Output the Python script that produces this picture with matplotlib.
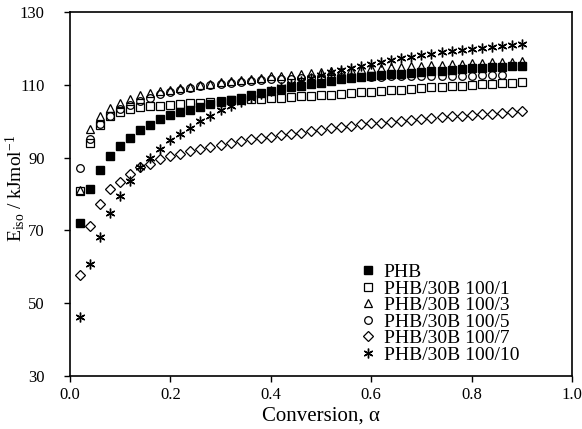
import numpy as np
import matplotlib
matplotlib.use('Agg')
import matplotlib.pyplot as plt

plt.rcParams['font.family'] = ['Liberation Serif', 'DejaVu Serif']
plt.rcParams['mathtext.fontset'] = 'custom'
plt.rcParams['mathtext.rm'] = 'Liberation Serif'
plt.rcParams['mathtext.it'] = 'Liberation Serif:italic'

# conversion values (0.02 ... 0.90)
alpha = [round(0.02 * k, 2) for k in range(1, 46)]

phb = [72.0, 81.4, 86.5, 90.4, 93.3, 95.4, 97.5, 99.0, 100.5, 101.6,
       102.5, 103.2, 104.0, 104.7, 105.3, 105.9, 106.5, 107.1, 107.7, 108.3,
       108.8, 109.3, 109.7, 110.2, 110.6, 111.1, 111.5, 111.9, 112.2, 112.5,
       112.7, 112.9, 113.1, 113.3, 113.5, 113.7, 113.9, 114.1, 114.3, 114.5,
       114.6, 114.8, 114.9, 115.1, 115.2]

b100_1 = [80.7, 94.1, 98.9, 101.3, 102.4, 103.3, 103.9, 104.2, 104.3, 104.5,
          104.7, 104.9, 105.1, 105.3, 105.5, 105.7, 105.9, 106.1, 106.2, 106.4,
          106.5, 106.7, 106.8, 107.0, 107.1, 107.3, 107.5, 107.7, 107.9, 108.1,
          108.3, 108.5, 108.7, 108.9, 109.1, 109.3, 109.5, 109.6, 109.8, 109.9,
          110.1, 110.2, 110.4, 110.5, 110.7]

b100_3 = [81.0, 97.9, 101.4, 103.5, 104.9, 106.2, 107.1, 107.7, 108.2, 108.6,
          109.1, 109.5, 109.9, 110.3, 110.7, 111.0, 111.4, 111.7, 112.0, 112.3,
          112.5, 112.8, 113.0, 113.3, 113.5, 113.7, 113.9, 114.1, 114.3, 114.5,
          114.6, 114.8, 114.9, 115.1, 115.2, 115.4, 115.5, 115.6, 115.8, 115.9,
          116.0, 116.2, 116.3, 116.4, 116.6]

# circles stop at alpha = 0.86
b100_5 = [87.2, 95.2, 99.1, 101.4, 103.3, 104.5, 105.6, 106.5, 107.4, 108.1,
          108.6, 109.2, 109.6, 110.0, 110.3, 110.6, 110.9, 111.1, 111.3, 111.5,
          111.6, 111.7, 111.8, 111.9, 112.0, 112.0, 112.1, 112.1, 112.2, 112.2,
          112.2, 112.3, 112.3, 112.3, 112.4, 112.4, 112.4, 112.5, 112.5, 112.5,
          112.6, 112.6, 112.6]

b100_7 = [57.7, 71.3, 77.3, 81.4, 83.4, 85.5, 87.3, 88.3, 89.5, 90.4,
          91.1, 91.8, 92.4, 93.0, 93.5, 94.1, 94.5, 95.0, 95.3, 95.6,
          96.1, 96.4, 96.8, 97.3, 97.7, 98.1, 98.5, 98.8, 99.1, 99.4,
          99.6, 99.9, 100.1, 100.4, 100.6, 100.9, 101.1, 101.3, 101.5, 101.7,
          101.9, 102.1, 102.3, 102.5, 102.7]

b100_10 = [46.2, 60.7, 68.3, 74.7, 79.5, 83.5, 87.3, 89.9, 92.4, 94.8,
           96.4, 98.2, 100.0, 101.5, 103.0, 104.2, 105.4, 106.5, 107.5, 108.4,
           109.3, 110.2, 111.0, 111.8, 112.6, 113.4, 114.0, 114.6, 115.2, 115.8,
           116.3, 116.8, 117.3, 117.7, 118.1, 118.5, 118.9, 119.3, 119.6, 119.9,
           120.2, 120.5, 120.8, 121.0, 121.3]

labels = ['PHB', 'PHB/30B 100/1', 'PHB/30B 100/3', 'PHB/30B 100/5',
          'PHB/30B 100/7', 'PHB/30B 100/10']

fig = plt.figure(figsize=(5.82, 4.29), dpi=100, facecolor='white')
ax = fig.add_axes([0.120, 0.1235, 0.863, 0.8485])

ms = 5.5
ax.plot(alpha, phb, 's', color='black', ms=ms, label=labels[0])
ax.plot(alpha, b100_1, 's', mfc='none', mec='black', mew=0.9, ms=ms, label=labels[1])
ax.plot(alpha, b100_3, '^', mfc='none', mec='black', mew=0.9, ms=ms + 0.5, label=labels[2])
ax.plot(alpha[:len(b100_5)], b100_5, 'o', mfc='none', mec='black', mew=0.9, ms=ms, label=labels[3])
ax.plot(alpha, b100_7, 'D', mfc='none', mec='black', mew=0.9, ms=ms - 0.8, label=labels[4])
ax.plot(alpha, b100_10, marker=(6, 2, 0), ls='none', color='black', mew=1.0, ms=ms + 1.5, label=labels[5])

ax.set_xlim(0, 1.0)
ax.set_ylim(30, 130)
ax.set_xticks(np.arange(0, 1.01, 0.2))
ax.set_xticklabels(['0.0', '0.2', '0.4', '0.6', '0.8', '1.0'])
ax.set_yticks(range(30, 131, 20))
ax.tick_params(axis='both', direction='out', length=4, width=1, labelsize=12, colors='black')
ax.tick_params(axis='y', pad=14)
ax.tick_params(axis='x', pad=4)
for s in ax.spines.values():
    s.set_linewidth(1.2)

ax.set_xlabel('Conversion, α', fontsize=15)
ax.xaxis.set_label_coords(0.5, -0.085)
ax.set_ylabel(r'E$_{\rm iso}$ / kJmol$^{-1}$', fontsize=14)
ax.yaxis.set_label_coords(-0.086, 0.516)

ax.legend(loc='upper left', bbox_to_anchor=(0.555, 0.33), frameon=False,
          fontsize=14, handletextpad=0.2, labelspacing=-0.06, borderaxespad=0,
          handlelength=1.2)

plt.savefig('out.png', dpi=100, facecolor='white')
plt.close()
